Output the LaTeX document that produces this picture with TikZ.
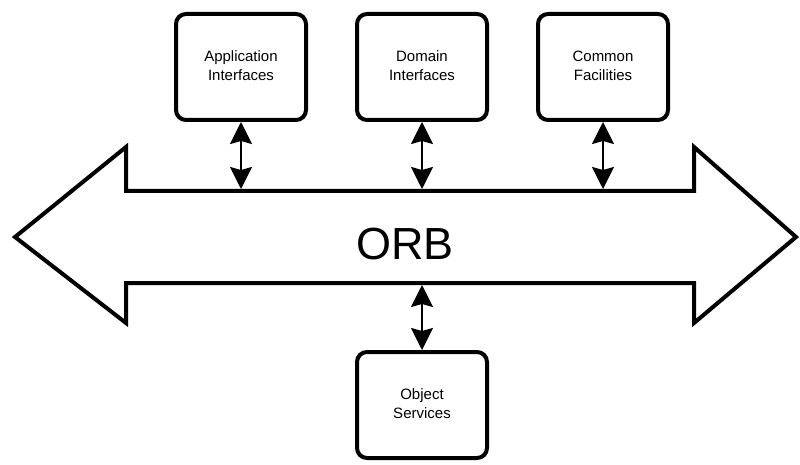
\documentclass[tikz,border=0pt]{standalone}
\usepackage{fontspec}
\setmainfont{Liberation Sans}
\usetikzlibrary{arrows.meta}
\tikzset{
  comp/.style={draw, line width=4pt, rounded corners=10pt, minimum width=130pt, minimum height=106pt, align=center, inner sep=0pt, font=\fontsize{15}{19}\selectfont},
  link/.style={line width=2pt, {Stealth[length=22pt,width=22pt,inset=3pt]}-{Stealth[length=22pt,width=22pt,inset=3pt]}},
  bus/.style={line width=4pt, line join=miter, miter limit=10},
}
\begin{document}
\begin{tikzpicture}[x=1pt,y=-1pt]
\useasboundingbox (0,0) rectangle (800,465);
% big ORB arrow
\draw[bus] (15,237) -- (126,147) -- (126,191) -- (694,191) -- (694,147) -- (796,237)
  -- (694,323) -- (694,283) -- (126,283) -- (126,323) -- cycle;
\node[font=\fontsize{45}{50}\selectfont] (orb) at (405,244) {ORB};
% components
\node[comp] (app) at (241,67) {\raisebox{6pt}{\begin{tabular}{@{}c@{}}Application\\Interfaces\end{tabular}}};
\node[comp] (dom) at (422,67) {\raisebox{6pt}{\begin{tabular}{@{}c@{}}Domain\\Interfaces\end{tabular}}};
\node[comp] (com) at (603,67) {\raisebox{6pt}{\begin{tabular}{@{}c@{}}Common\\Facilities\end{tabular}}};
\node[comp] (obj) at (422,405) {\raisebox{5pt}{\begin{tabular}{@{}c@{}}Object\\Services\end{tabular}}};
% attachment points on the bus
\coordinate (appb) at (241,189);
\coordinate (domb) at (422,189);
\coordinate (comb) at (603,189);
\coordinate (objb) at (422,285);
\draw[link] (app.south) -- (appb);
\draw[link] (dom.south) -- (domb);
\draw[link] (com.south) -- (comb);
\draw[link] (objb) -- (obj.north);
\end{tikzpicture}
\end{document}
